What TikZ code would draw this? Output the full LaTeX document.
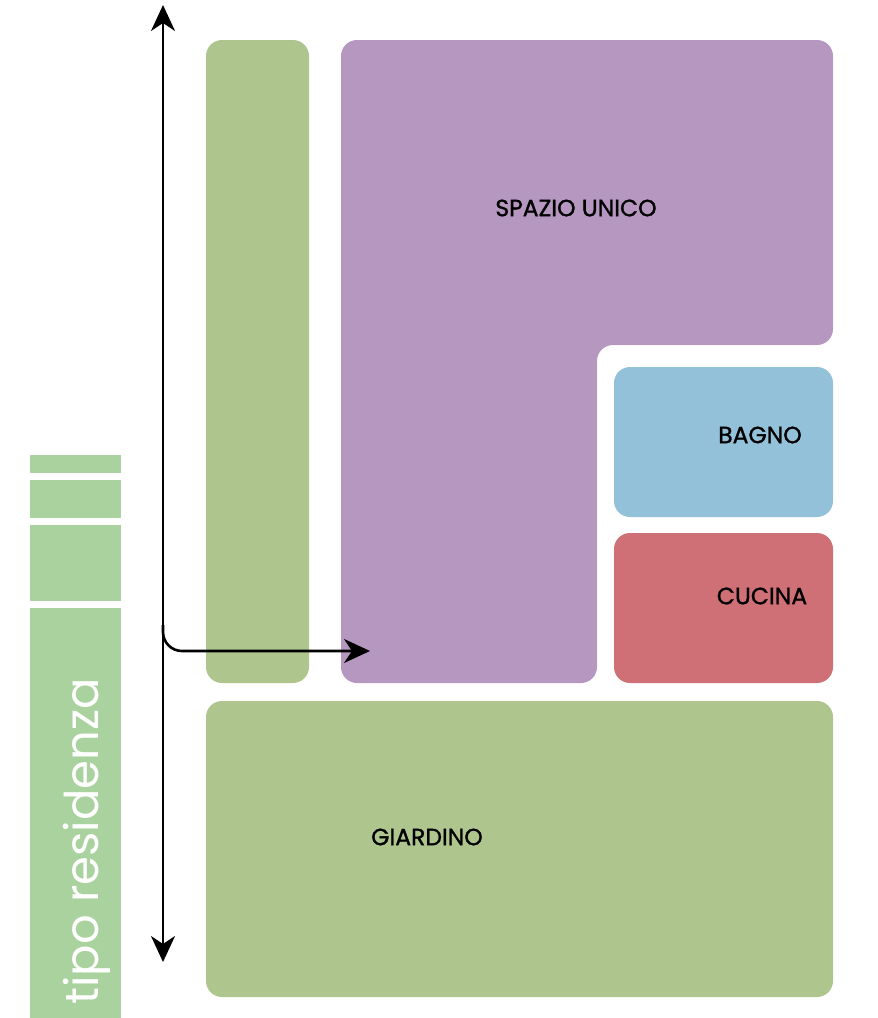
\documentclass[tikz,border=0pt]{standalone}
\usepackage{fontspec}
\setmainfont{Poppins}
\usetikzlibrary{arrows.meta}

\definecolor{verde}{RGB}{175,197,142}
\definecolor{verdechiaro}{RGB}{170,210,158}
\definecolor{viola}{RGB}{181,151,191}
\definecolor{azzurro}{RGB}{147,193,217}
\definecolor{rosso}{RGB}{206,112,118}

\begin{document}
\begin{tikzpicture}[x=1pt, y=-1pt,
    >={Stealth[length=26pt,width=24pt,inset=8pt]},
    room/.style={rounded corners=16pt},
    roomlabel/.style={font=\fontsize{23.5}{25}\selectfont\addfontfeatures{FakeBold=1.2}, text=black, inner sep=0pt},
    axis/.style={line width=2.6pt, black, <->},
    branch/.style={line width=2.6pt, black, rounded corners=19pt, ->}]

\useasboundingbox (0,0) rectangle (878,1018);

% barra laterale
\fill[verdechiaro] (30,455) rectangle (121,473);
\fill[verdechiaro] (30,480) rectangle (121,518);
\fill[verdechiaro] (30,525) rectangle (121,601);
\fill[verdechiaro] (30,608) rectangle (121,1018);
\node[rotate=90, anchor=base east, inner sep=0pt, text=white,
    font=\fontsize{46.5}{50}\selectfont] (tipo) at (98,678) {a tipo residenza};

% ambienti
\fill[verde, room] (206,40) rectangle (309,683);
\fill[viola, room] (341,40) -- (833,40) -- (833,345) -- (597,345) -- (597,683) -- (341,683) -- cycle;
\fill[azzurro, room] (614,367) rectangle (833,517);
\fill[rosso, room] (614,533) rectangle (833,683);
\fill[verde, room] (206,701) rectangle (833,997);

\node[roomlabel] (spazio) at (576,208) {SPAZIO UNICO};
\node[roomlabel] (bagno) at (760,435) {BAGNO};
\node[roomlabel] (cucina) at (762,596) {CUCINA};
\node[roomlabel] (giardino) at (427,837) {GIARDINO};

% assi
\coordinate (alto) at (163,5);
\coordinate (basso) at (163,962);
\coordinate (snodo) at (163,625);
\coordinate (destra) at (370,651);
\draw[axis] (basso) -- (alto);
\draw[branch] (snodo) |- (destra);

\end{tikzpicture}
\end{document}
